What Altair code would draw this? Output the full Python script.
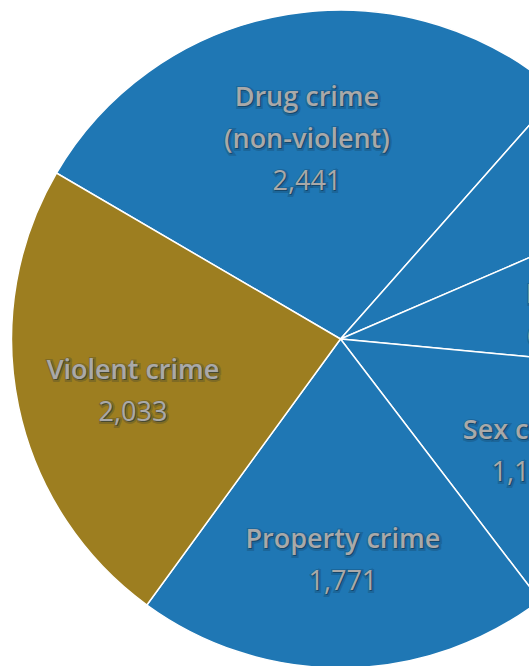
import math
import altair as alt
import pandas as pd

# ---- data ----
name_lines = [["Drug crime", "(non-violent)"], [], ["DUI"], ["Sex crime"], ["Property crime"], ["Violent crime"]]
values = [2441, 609, 692, 1141, 1771, 2033]
groups = ["other", "other", "other", "other", "other", "violent"]
show_value = [True, False, True, True, True, True]

start_deg = 300.3  # where the first slice (Drug crime) begins, clockwise from 12 o'clock

LH = 42  # line spacing of the labels
# text slots, by offset in line units from the label centre
slots = [-1.0, -0.5, 0.0, 0.5, 1.0]

rows = []
for i, (nl, v, g, s) in enumerate(zip(name_lines, values, groups, show_value)):
    lines = [(t, "name") for t in nl] + ([(f"{v:,}", "value")] if s else [])
    row = {"idx": i, "value": v, "group": g}
    for k in range(len(slots)):
        row[f"name_{k}"] = ""
        row[f"value_{k}"] = ""
    n = len(lines)
    for j, (t, kind) in enumerate(lines):
        off = j - (n - 1) / 2
        k = slots.index(off)
        row[f"{kind}_{k}"] = t
    rows.append(row)
df = pd.DataFrame(rows)

a0 = math.radians(start_deg)
theta_scale = alt.Scale(range=[a0, a0 + 2 * math.pi])
CX, CY, R = 340.5, 339, 329
LR = 212
DY = 10

base = alt.Chart(df).encode(
    theta=alt.Theta("value:Q", stack=True, scale=theta_scale),
    order=alt.Order("idx:Q"),
    x=alt.value(CX),
    y=alt.value(CY),
)

pie = base.mark_arc(stroke="white", strokeWidth=1.5, radius=R).encode(
    color=alt.Color("group:N",
                    scale=alt.Scale(domain=["other", "violent"], range=["#1f77b4", "#9d7e20"]),
                    legend=None)
)


def text_layer(field, weight, dy, fill, extra):
    return base.mark_text(radius=LR, dy=dy, font="Open Sans", fontSize=27, fontWeight=weight,
                          align="center", baseline="middle", fill=fill, **extra
                          ).encode(text=f"{field}:N")


shadow_kw = dict(stroke="#10283c", strokeWidth=4, strokeOpacity=0.35, opacity=0.6)
layers = [pie]
for fill, extra in [("#10283c", dict(shadow_kw, dx=1)), ("#a9a9a9", {})]:
    for k, off in enumerate(slots):
        extra_dy = DY + off * LH + (1 if extra else 0)
        layers.append(text_layer(f"name_{k}", 600, extra_dy, fill, extra))
        layers.append(text_layer(f"value_{k}", 400, extra_dy, fill, extra))

chart = alt.layer(*layers).properties(
    width=529, height=666,
    autosize=alt.AutoSizeParams(type="none"),
    padding=0,
    background="white",
).configure_view(stroke=None)

chart.save("out.html", embed_options={"renderer": "svg", "actions": False})
